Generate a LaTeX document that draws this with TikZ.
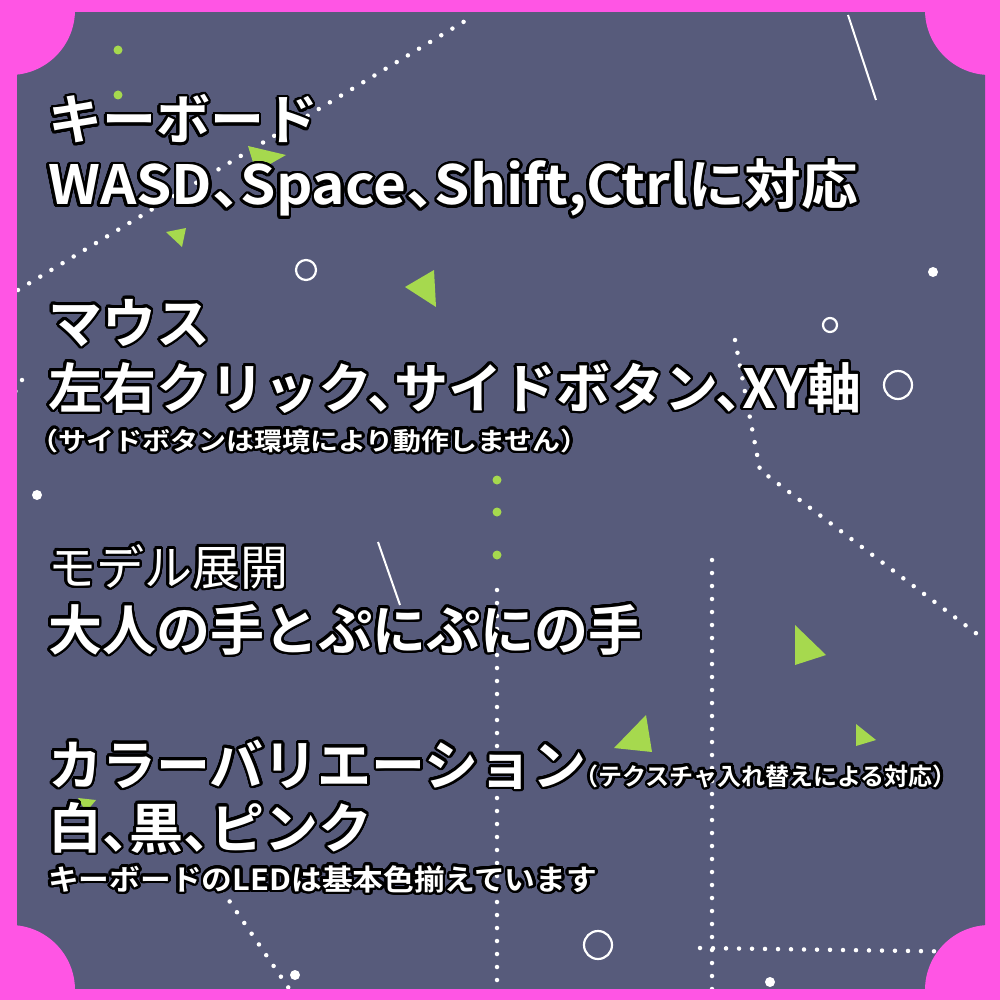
\documentclass[tikz,border=0pt]{standalone}
\usepackage{fontspec}
\setmainfont{Noto Sans CJK JP Bold}[RawFeature=+halt]
\newfontfamily\lightjp{Noto Sans CJK JP}[RawFeature=+halt]
\usepackage{contour}
\contournumber{32}
\contourlength{2.6pt}
\definecolor{pinkb}{HTML}{FF55E4}
\definecolor{slate}{HTML}{575B7B}
\definecolor{lime}{HTML}{A6D94E}
\tikzset{
  ol/.style={anchor=base west,inner sep=0pt,text=white},
  dots/.style={white,line width=4.5pt,line cap=round,dash pattern=on 0pt off 13pt},
  gtri/.style={fill=lime},
  wcirc/.style={draw=white,line width=2.2pt},
}
\newcommand{\ot}[1]{\contour{black}{#1}}
\begin{document}
\begin{tikzpicture}[x=1pt,y=-1pt]
\useasboundingbox (0,0) rectangle (1000,1000);
\fill[pinkb] (0,0) rectangle (1000,1000);
\begin{scope}
\clip (17,13) rectangle (985,988);
\fill[slate] (0,0) rectangle (1000,1000);
\draw[dots] (18,290) -- (470,18);
\fill[lime] (118,50) circle (4.5) (118,95) circle (4.5);
\draw[white,line width=2pt] (848,15) -- (876,100);
\draw[white,line width=2pt] (378,542) -- (400,605);
\fill[gtri] (248,146) -- (286,155) -- (256,172) -- cycle;
\fill[gtri] (166,232) -- (186,228) -- (182,247) -- cycle;
\fill[gtri] (405,287) -- (434,270) -- (436,307) -- cycle;
\fill[gtri] (795,625) -- (826,655) -- (795,665) -- cycle;
\fill[gtri] (614,748) -- (646,715) -- (652,752) -- cycle;
\fill[gtri] (856,724) -- (876,740) -- (856,746) -- cycle;
\fill[gtri] (78,798) -- (96,800) -- (86,812) -- cycle;
\draw[wcirc] (306,270) circle (10);
\draw[wcirc] (898,385) circle (14);
\draw[wcirc] (830,325) circle (7);
\draw[wcirc] (598,945) circle (14);
\fill[white] (933,272) circle (5) (37,495) circle (5) (295,975) circle (5) (770,982) circle (5);
\fill[lime] (497,480) circle (4.5) (497,512) circle (4.5) (497,555) circle (4.5);
\draw[dots] (497,590) -- (497,1000);
\draw[dots] (712,560) -- (712,1000);
\draw[dots] (735,340) -- (760,470) -- (985,640);
\draw[dots] (700,948) -- (985,952);
\draw[dots] (215,880) -- (290,990);
\draw[dots] (22,380) -- (15,392);
\end{scope}
\fill[pinkb] (10,10) circle (65) (990,10) circle (65) (10,990) circle (65) (990,990) circle (65);
\node[ol,font=\fontsize{54}{54}\selectfont] (t1) at (48,140) {\ot{キーボード}};
\node[ol,font=\fontsize{54}{54}\selectfont,xscale=1.05] (t2) at (48,205) {\ot{WASD、Space、Shift,Ctrlに対応}};
\node[ol,font=\fontsize{54}{54}\selectfont] (t3) at (48,343) {\ot{マウス}};
\node[ol,font=\fontsize{54}{54}\selectfont] (t4) at (48,408) {\ot{左右クリック、サイドボタン、XY軸}};
\node[ol,font=\fontsize{25}{25}\selectfont,xscale=1.12] (t5) at (44,450) {\ot{（サイドボタンは環境により動作しません）}};
\node[ol,font=\lightjp\fontsize{48}{48}\selectfont] (t6) at (48,585) {\ot{モデル展開}};
\node[ol,font=\fontsize{54}{54}\selectfont] (t7) at (48,650) {\ot{大人の手とぷにぷにの手}};
\node[ol,font=\fontsize{54}{54}\selectfont] (t8) at (48,785) {\ot{カラーバリエーション}\fontsize{24}{24}\selectfont\ot{（テクスチャ入れ替えによる対応）}};
\node[ol,font=\fontsize{54}{54}\selectfont] (t9) at (48,848) {\ot{白、黒、ピンク}};
\node[ol,font=\fontsize{29}{29}\selectfont,xscale=1.06] (t10) at (48,890) {\ot{キーボードのLEDは基本色揃えています}};
\end{tikzpicture}
\end{document}
